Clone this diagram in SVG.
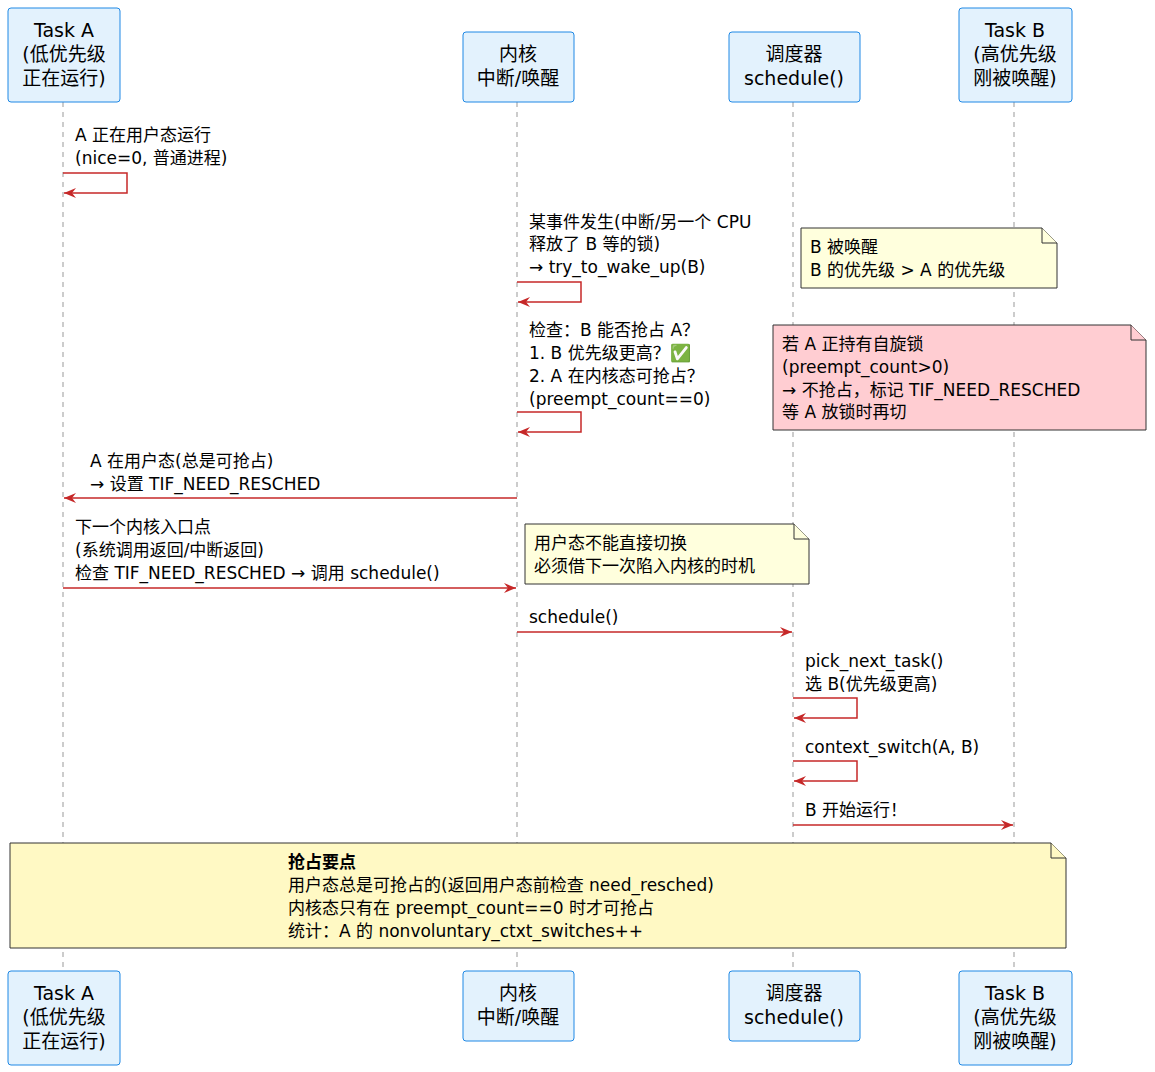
<svg xmlns="http://www.w3.org/2000/svg" width="1155" height="1072" viewBox="0 0 1155 1072">
<style>
text{font-family:"DejaVu Sans","Noto Sans CJK SC",sans-serif;font-size:17px;fill:#000}
.h{font-size:19px;text-anchor:middle}
.box{fill:#E3F2FD;stroke:#1E88E5;stroke-width:1}
.life{stroke:#999;stroke-width:1;stroke-dasharray:5,5}
.msg{stroke:#C62828;stroke-width:1.5;fill:none}
.note{fill:#FFFFDD;stroke:#333;stroke-width:1}
</style>
<defs><marker id="ah" viewBox="0 0 12 10" refX="12" refY="5" markerWidth="12" markerHeight="10" orient="auto" markerUnits="userSpaceOnUse"><path d="M0,0 L12,5 L0,10 L4,5 Z" fill="#C62828"/></marker></defs>
<g id="lifelines">
<line class="life" x1="63" y1="102" x2="63" y2="971"/>
<line class="life" x1="517" y1="102" x2="517" y2="971"/>
<line class="life" x1="793" y1="102" x2="793" y2="971"/>
<line class="life" x1="1014" y1="102" x2="1014" y2="971"/>
</g>
<g id="taskA"><rect class="box" x="8" y="8" width="112" height="94" rx="3"/><text class="h" x="64" y="37">Task A</text><text class="h" x="64" y="61">(低优先级</text><text class="h" x="64" y="85">正在运行)</text>
<rect class="box" x="8" y="971" width="112" height="94" rx="3"/><text class="h" x="64" y="1000">Task A</text><text class="h" x="64" y="1024">(低优先级</text><text class="h" x="64" y="1048">正在运行)</text></g>
<g id="kernel"><rect class="box" x="463" y="32" width="111" height="70" rx="3"/><text class="h" x="518" y="61">内核</text><text class="h" x="518" y="85">中断/唤醒</text>
<rect class="box" x="463" y="971" width="111" height="70" rx="3"/><text class="h" x="518" y="1000">内核</text><text class="h" x="518" y="1024">中断/唤醒</text></g>
<g id="sched"><rect class="box" x="729" y="32" width="131" height="70" rx="3"/><text class="h" x="794" y="61">调度器</text><text class="h" x="794" y="85">schedule()</text>
<rect class="box" x="729" y="971" width="131" height="70" rx="3"/><text class="h" x="794" y="1000">调度器</text><text class="h" x="794" y="1024">schedule()</text></g>
<g id="taskB"><rect class="box" x="959" y="8" width="113" height="94" rx="3"/><text class="h" x="1015" y="37">Task B</text><text class="h" x="1015" y="61">(高优先级</text><text class="h" x="1015" y="85">刚被唤醒)</text>
<rect class="box" x="959" y="971" width="113" height="94" rx="3"/><text class="h" x="1015" y="1000">Task B</text><text class="h" x="1015" y="1024">(高优先级</text><text class="h" x="1015" y="1048">刚被唤醒)</text></g>
<g id="connectors">
<path class="msg" d="M63,173 H127 V193 H64" marker-end="url(#ah)"/>
<text x="75" y="141">A 正在用户态运行</text><text x="75" y="164">(nice=0, 普通进程)</text>
<path class="msg" d="M517,282 H581 V302 H518" marker-end="url(#ah)"/>
<text x="529" y="228">某事件发生(中断/另一个 CPU</text><text x="529" y="250">释放了 B 等的锁)</text><text x="529" y="273">→ try_to_wake_up(B)</text>
<path class="msg" d="M517,412 H581 V432 H518" marker-end="url(#ah)"/>
<text x="529" y="336">检查：B 能否抢占 A？</text><text x="529" y="359">1. B 优先级更高？✅</text><text x="529" y="382">2. A 在内核态可抢占？</text><text x="529" y="405">   (preempt_count==0)</text>
<line class="msg" x1="517" y1="498" x2="64" y2="498" marker-end="url(#ah)"/>
<text x="90" y="467">A 在用户态(总是可抢占)</text><text x="90" y="490">→ 设置 TIF_NEED_RESCHED</text>
<line class="msg" x1="63" y1="588" x2="516" y2="588" marker-end="url(#ah)"/>
<text x="75" y="533">下一个内核入口点</text><text x="75" y="556">(系统调用返回/中断返回)</text><text x="75" y="579">检查 TIF_NEED_RESCHED → 调用 schedule()</text>
<line class="msg" x1="517" y1="632" x2="792" y2="632" marker-end="url(#ah)"/>
<text x="529" y="623">schedule()</text>
<path class="msg" d="M793,698 H857 V718 H794" marker-end="url(#ah)"/>
<text x="805" y="667">pick_next_task()</text><text x="805" y="690">选 B(优先级更高)</text>
<path class="msg" d="M793,761 H857 V781 H794" marker-end="url(#ah)"/>
<text x="805" y="753">context_switch(A, B)</text>
<line class="msg" x1="793" y1="825" x2="1013" y2="825" marker-end="url(#ah)"/>
<text x="805" y="816">B 开始运行！</text>
</g>
<g id="note1"><path class="note" d="M801,228 H1042 L1057,243 V288 H801 Z"/><path class="note" d="M1042,228 V243 H1057"/><text x="810" y="253">B 被唤醒</text><text x="810" y="276">B 的优先级 &gt; A 的优先级</text></g>
<g id="note2"><path class="note" style="fill:#FFCDD2" d="M773,325 H1131 L1146,340 V430 H773 Z"/><path class="note" style="fill:#FFCDD2" d="M1131,325 V340 H1146"/><text x="782" y="350">若 A 正持有自旋锁</text><text x="782" y="373">(preempt_count&gt;0)</text><text x="782" y="396">→ 不抢占，标记 TIF_NEED_RESCHED</text><text x="782" y="418">等 A 放锁时再切</text></g>
<g id="note3"><path class="note" d="M525,524 H794 L809,539 V584 H525 Z"/><path class="note" d="M794,524 V539 H809"/><text x="534" y="549">用户态不能直接切换</text><text x="534" y="572">必须借下一次陷入内核的时机</text></g>
<g id="note4"><path class="note" style="fill:#FFF9C4" d="M10,843 H1051 L1066,858 V948 H10 Z"/><path class="note" style="fill:#FFF9C4" d="M1051,843 V858 H1066"/><text x="288" y="868" font-weight="bold">抢占要点</text><text x="288" y="891">用户态总是可抢占的(返回用户态前检查 need_resched)</text><text x="288" y="914">内核态只有在 preempt_count==0 时才可抢占</text><text x="288" y="937">统计：A 的 nonvoluntary_ctxt_switches++</text></g>
</svg>
